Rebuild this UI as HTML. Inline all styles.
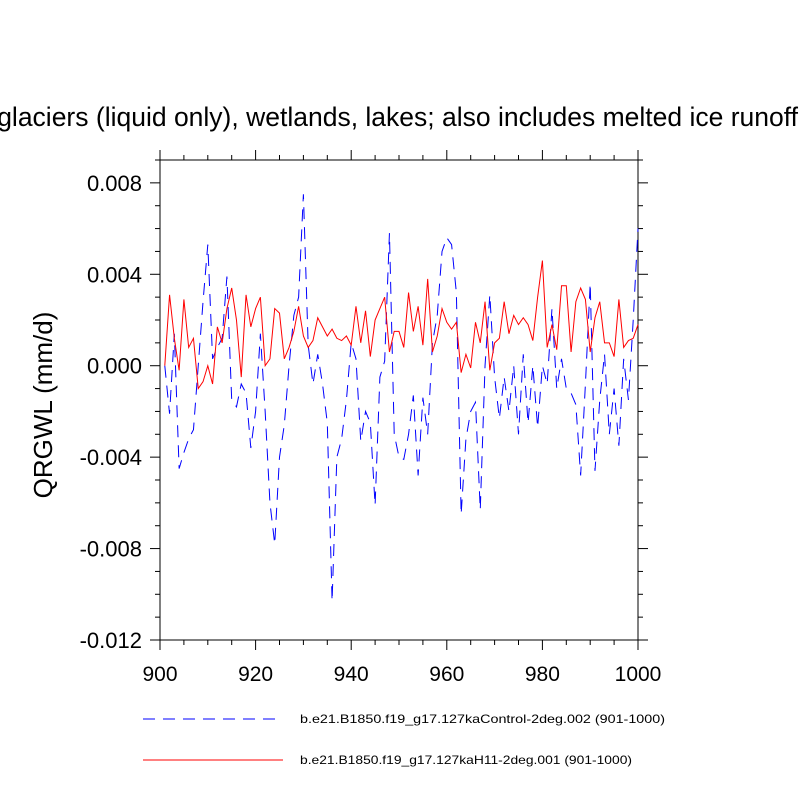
<!DOCTYPE html>
<html><head><meta charset="utf-8"><style>body{margin:0;background:#fff}svg{display:block;font-family:"Liberation Sans",sans-serif}</style></head>
<body>
<svg id="c" width="800" height="800"></svg>
<script>
const years=[];for(let y=901;y<=1000;y++)years.push(y);
const control=[0.0,-2.1,1.4,-4.5,-3.8,-3.2,-2.8,0.0,2.8,5.3,0.3,0.8,1.2,3.9,-1.5,-1.8,-0.8,-1.2,-3.6,-2.0,1.4,-2.0,-6.0,-7.8,-4.0,-2.6,0.0,2.2,3.0,7.5,0.9,-0.8,0.5,-0.8,-2.5,-10.3,-4.0,-3.2,-1.5,1.0,0.3,-3.3,-2.0,-2.5,-6.1,-0.5,0.2,5.8,-3.0,-4.0,-4.1,-3.0,-1.3,-4.8,-1.4,-3.0,1.0,2.2,5.0,5.6,5.3,3.2,-6.5,-3.2,-2.0,-1.6,-6.3,0.0,3.1,-0.5,-2.3,-0.5,-2.0,0.0,-3.0,0.5,-2.5,0.0,-2.7,0.0,-0.8,2.5,-1.0,0.3,-1.0,-1.2,-1.7,-4.8,-0.8,3.6,-4.6,-1.5,0.5,-3.0,-1.0,-3.5,0.3,-1.5,2.0,6.0];
const h11=[0.0,3.1,1.2,-0.2,2.9,0.8,1.2,-1.0,-0.7,0.0,-0.8,1.7,1.0,2.5,3.4,2.0,-0.5,3.1,1.7,2.5,3.0,0.0,0.3,2.5,2.3,0.3,0.8,1.5,2.6,1.3,0.8,1.1,2.1,1.7,1.3,1.6,1.2,1.1,1.3,0.9,2.6,1.0,2.4,0.4,2.0,2.5,3.0,0.6,1.5,1.5,0.8,3.2,1.5,2.6,0.9,3.8,0.6,1.3,2.5,1.9,1.6,1.9,-0.3,0.5,-0.1,1.9,1.0,2.8,-0.2,1.0,1.2,2.8,1.4,2.2,1.8,2.1,1.8,1.1,3.0,4.6,0.8,1.8,0.7,3.5,3.5,0.6,2.8,3.4,2.9,0.6,2.1,2.8,1.0,1.0,0.4,2.9,0.8,1.1,1.2,1.8];
const xTicks=[900,920,940,960,980,1000];
const yTicks=[-0.012,-0.008,-0.004,0.000,0.004,0.008];
const yTickLabels=["-0.012","-0.008","-0.004","0.000","0.004","0.008"];
const L=160,R=638,T=160,B=640,ymin=-0.012,ymax=0.009;
const sx=v=>L+(v-900)/100*(R-L);
const sy=v=>B-(v-ymin)/(ymax-ymin)*(B-T);
const NS="http://www.w3.org/2000/svg",svg=document.getElementById('c');
function mk(t,a,p){const e=document.createElementNS(NS,t);for(const k in a)e.setAttribute(k,a[k]);(p||svg).appendChild(e);return e;}
let e;
e=mk('text',{x:798,y:126,'text-anchor':'end','font-size':26.5});e.textContent="Runoff from glaciers (liquid only), wetlands, lakes; also includes melted ice runoff";


e=mk('rect',{x:L,y:T,width:R-L,height:B-T,fill:'none',stroke:'#000','stroke-width':1});


const tg=mk('g',{stroke:'#000','stroke-width':1});


for(let v=900;v<=1000;v+=5){const x=sx(v),len=(v%20===0)?10:5;mk('line',{x1:x,x2:x,y1:B,y2:B+len},tg);mk('line',{x1:x,x2:x,y1:T,y2:T-len},tg);}
for(let i=-12;i<=9;i++){const y=sy(i/1000),len=(i%4===0)?10:5;mk('line',{x1:L,x2:L-len,y1:y,y2:y},tg);mk('line',{x1:R,x2:R+len,y1:y,y2:y},tg);}
xTicks.forEach(v=>{e=mk('text',{x:sx(v),y:B+41,'text-anchor':'middle','font-size':21});e.textContent=v;

});
yTicks.forEach((v,i)=>{e=mk('text',{x:L-18,y:sy(v)+8,'text-anchor':'end','font-size':22});e.textContent=yTickLabels[i];

});
e=mk('text',{x:0,y:0,transform:'translate(52,405) rotate(-90)','text-anchor':'middle','font-size':26,'xml:space':'preserve'});e.textContent="QRGWL  (mm/d)";


function line(vals,attrs,name){const d=vals.map((v,i)=>(i?'L':'M')+sx(years[i]).toFixed(2)+','+sy(v/1000).toFixed(2)).join('');
const p=mk('path',Object.assign({d:d,fill:'none'},attrs));

}
line(control,{stroke:'#00f','stroke-width':1,'stroke-dasharray':'12,8'},'control-series-line');
line(h11,{stroke:'#f00','stroke-width':1},'h11-series-line');
e=mk('line',{x1:143,x2:280,y1:719,y2:719,stroke:'#00f','stroke-dasharray':'12,8'});


e=mk('text',{x:300,y:723,'font-size':12,textLength:365,lengthAdjust:'spacingAndGlyphs'});e.textContent="b.e21.B1850.f19_g17.127kaControl-2deg.002 (901-1000)";


e=mk('line',{x1:143,x2:283,y1:760,y2:760,stroke:'#f00'});


e=mk('text',{x:300,y:764,'font-size':12,textLength:332,lengthAdjust:'spacingAndGlyphs'});e.textContent="b.e21.B1850.f19_g17.127kaH11-2deg.001 (901-1000)";


</script>
</body></html>
